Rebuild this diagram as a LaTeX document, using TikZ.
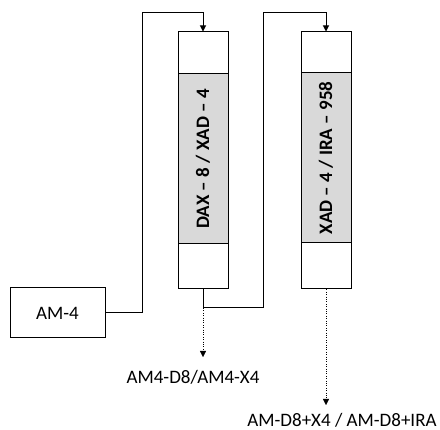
\documentclass[tikz,border=0pt]{standalone}
\usepackage{fontspec}
\setmainfont{Carlito}
\usetikzlibrary{arrows.meta}

\tikzstyle{every node}=[font=\fontsize{19pt}{23pt}\selectfont]
\tikzstyle{column}=[draw, line width=1pt, minimum width=50pt, minimum height=257pt, inner sep=0pt]
\tikzstyle{bed}=[draw, line width=1pt, fill=gray!30, minimum width=170pt, minimum height=50pt, inner sep=0pt, rotate=90, font=\fontsize{19pt}{23pt}\selectfont\bfseries]
\tikzstyle{flow}=[line width=1pt]

\begin{document}
\begin{tikzpicture}[x=1pt, y=-1pt, >={Triangle[width=6pt,length=6pt]}]
	            \useasboundingbox (0,0) rectangle (440,430);

	            % Kolony
	            \node[column] (c1) at (203,160.5) {};
	            \node[bed] (b1) at (203,159) {DAX -- 8 / XAD -- 4};
	            \node[column] (c2) at (326,160.5) {};
	            \node[bed] (b2) at (326,158) {XAD -- 4 / IRA -- 958};

	            % Vzorek
	            \node[draw, line width=1pt, minimum width=95pt, minimum height=50pt] (am4) at (57.5,313) {AM-4};

	            % Pomocne body
	            \coordinate (top1) at (142,13);
	            \coordinate (low1) at (263,308);
	            \coordinate (top2) at (263,13);
	            \coordinate (end1) at (203,357);
	            \coordinate (end2) at (326,405);

	            % Propojeni
	            \draw[flow, ->] (am4.east) -| (top1) -| (c1.north);
	            \draw[flow, ->] (c1.south) |- (low1) -- (top2) -| (c2.north);

	            % Vystupy
	            \draw[dotted, ->] (low1 -| c1.south) -- (end1);
	            \draw[dotted, ->] (c2.south) -- (end2);
	            \node[inner sep=1pt] (out1) at (193,377) {AM4-D8/AM4-X4};
	            \node[inner sep=0pt] (out2) at (342,420) {AM-D8+X4 / AM-D8+IRA};
	        \end{tikzpicture}
\end{document}
